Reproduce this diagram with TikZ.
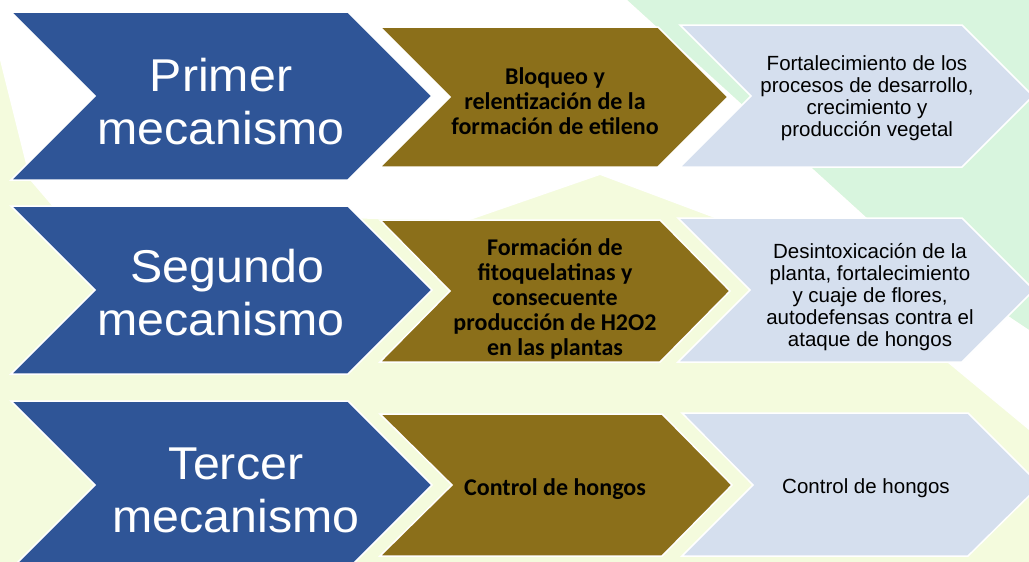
\documentclass[tikz,border=0pt]{standalone}
\usepackage{fontspec}
\newfontfamily\mecfont[FakeStretch=1.05]{Liberation Sans}
\newfontfamily\arialfont{Liberation Sans}
\newfontfamily\calfont{Carlito}

\definecolor{mecblue}{HTML}{2F5597}
\definecolor{effbrown}{HTML}{8B6F1A}
\definecolor{reslight}{HTML}{D5DFEE}
\definecolor{bgyellow}{HTML}{F4FBDD}
\definecolor{bggreen}{HTML}{D8F5DE}

\tikzset{
  chev/.style={draw=white, line width=1.5pt, line join=miter},
  mectxt/.style={text=white, align=center, inner sep=0pt, font=\mecfont\fontsize{46}{53}\selectfont},
  efftxt/.style={text=black, align=center, inner sep=0pt, font=\calfont\bfseries\fontsize{24}{25}\selectfont},
  restxt/.style={text=black, align=center, inner sep=0pt, font=\arialfont\fontsize{20.5}{22}\selectfont}
}

\begin{document}
\begin{tikzpicture}[x=1pt,y=-1pt]
\useasboundingbox (0,0) rectangle (1029,562);
\clip (0,0) rectangle (1029,562);

% background
\fill[bgyellow] (0,0) rectangle (1029,562);
\fill[bggreen] (627,0) -- (1029,0) -- (1029,330) -- (880,230) -- cycle;
\fill[white] (0,0) -- (627,0) -- (880,230) -- (1029,330) -- (1029,430) -- (860,290) -- (720,220) -- (600,175) -- (470,220) -- (60,215) -- (30,180) -- (0,60) -- cycle;

% chevrons
\path[chev, fill=mecblue] (11,12) -- (348,12) -- (432,96) -- (348,180) -- (11,180) -- (95,96) -- cycle;
\path[chev, fill=mecblue] (11,206) -- (348,206) -- (432,290) -- (348,374) -- (11,374) -- (95,290) -- cycle;
\path[chev, fill=mecblue] (11,401) -- (348,401) -- (432,485) -- (348,569) -- (11,569) -- (95,485) -- cycle;

\path[chev, fill=effbrown] (380,27) -- (658,27) -- (728,97) -- (658,167) -- (380,167) -- (450,97) -- cycle;
\path[chev, fill=effbrown] (380,220) -- (660,220) -- (730,291) -- (660,362) -- (380,362) -- (450,291) -- cycle;
\path[chev, fill=effbrown] (380,414) -- (662,414) -- (732,485) -- (662,556) -- (380,556) -- (452,485) -- cycle;

\path[chev, fill=reslight] (680,25) -- (962,25) -- (1033,96) -- (962,167) -- (680,167) -- (751,96) -- cycle;
\path[chev, fill=reslight] (678,218) -- (962,218) -- (1034,290) -- (962,362) -- (678,362) -- (750,290) -- cycle;
\path[chev, fill=reslight] (682,413) -- (968,413) -- (1040,485) -- (968,556) -- (682,556) -- (753,485) -- cycle;

% nodes
\node[mectxt] (m1) at (221,102) {Primer\\mecanismo};
\node[mectxt] (m2) at (221,293) {\hspace*{0.28em}Segundo\\mecanismo};
\node[mectxt] (m3) at (236,490) {Tercer\\mecanismo};

\node[efftxt] (e1) at (555,101) {Bloqueo y\\relentización de la\\formación de etileno};
\node[efftxt] (e2) at (555,299) {Formación de\\fitoquelatinas y\\consecuente\\producción de H2O2\\en las plantas};
\node[efftxt] (e3) at (555,489) {Control de hongos};

\node[restxt] (r1) at (867,98) {Fortalecimiento de los\\procesos de desarrollo,\\crecimiento y\\producción vegetal};
\node[restxt] (r2) at (870,297) {Desintoxicación de la\\planta, fortalecimiento\\y cuaje de flores,\\autodefensas contra el\\ataque de hongos};
\node[restxt] (r3) at (866,488) {Control de hongos};
\end{tikzpicture}
\end{document}
